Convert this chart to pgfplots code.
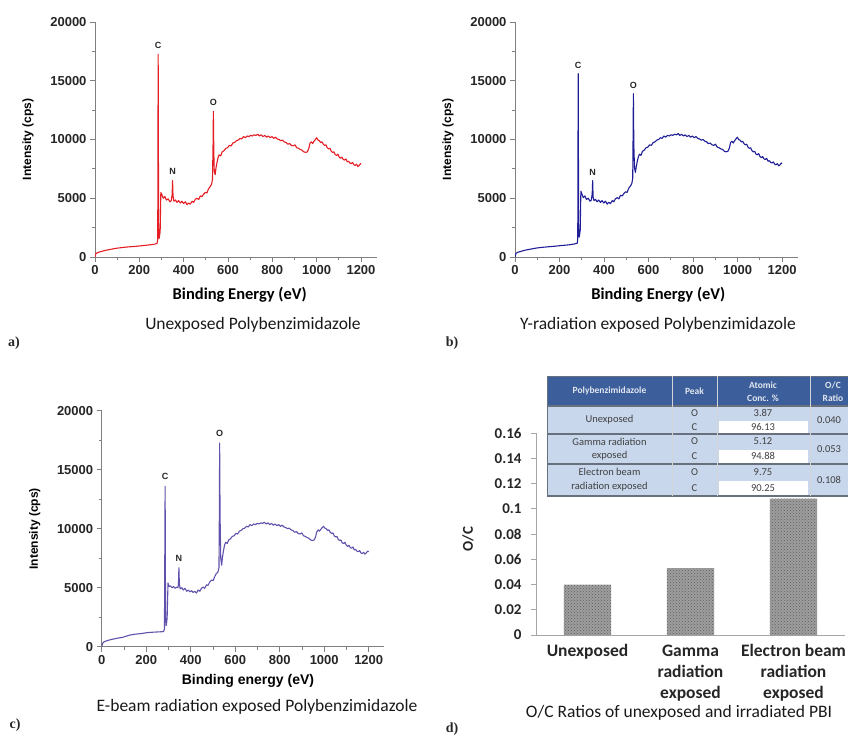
\documentclass[border=0pt]{standalone}
\usepackage{pgfplots}
\pgfplotsset{compat=1.18}
\usepackage{pgfplotstable}
\usetikzlibrary{patterns}
\usepackage{fontspec}
\setmainfont{Liberation Sans}
\newfontfamily\carlito{Carlito}
\newfontfamily\serifb{Liberation Serif}
\definecolor{specred}{RGB}{228,30,36}
\definecolor{specblue}{RGB}{32,30,150}
\definecolor{specpurple}{RGB}{96,82,172}
\definecolor{thead}{RGB}{60,94,154}
\definecolor{tlight}{RGB}{200,215,236}
\definecolor{tline}{RGB}{105,112,125}
\definecolor{barfill}{RGB}{158,158,158}
\definecolor{bardot}{RGB}{95,95,95}

\pgfplotstableread{
x y
0 0
4 280
12 380
25 450
45 560
70 650
95 740
120 800
150 860
180 900
210 960
240 1020
265 1080
280 1150
283 1500
285 17250
287 2500
290 1600
294 2200
297 5500
302 5300
308 5000
315 5150
322 4850
330 4950
338 4700
344 4800
348 5300
350 6500
352 5200
356 4750
363 4850
370 4650
377 4800
385 4600
392 4750
400 4550
408 4700
415 4450
422 4600
430 4500
438 4750
445 4650
452 4900
460 5000
468 4900
475 5200
483 5150
490 5350
498 5500
505 5450
512 5800
520 6000
526 6200
530 6600
533 10000
534 12400
536 9000
538 7300
542 7000
546 7600
550 8000
555 8450
560 8700
567 8600
574 8950
582 9050
590 9250
598 9300
606 9500
614 9450
622 9700
630 9750
638 9900
646 9950
654 10100
662 10050
670 10250
678 10150
686 10300
694 10250
702 10350
710 10300
718 10400
726 10350
734 10450
742 10300
750 10400
758 10250
766 10350
774 10200
782 10300
790 10150
798 10250
806 10100
814 10200
822 10050
830 10000
838 9900
846 9950
854 9800
862 9750
870 9600
878 9650
886 9500
894 9450
902 9550
910 9300
918 9250
926 9150
934 9100
942 8950
950 8900
958 8950
964 9200
970 9700
976 9800
982 9650
988 9850
994 10000
1000 10150
1006 9950
1012 9900
1018 9750
1024 9800
1030 9600
1036 9500
1042 9550
1048 9300
1054 9200
1060 9250
1066 9000
1072 8900
1078 8950
1084 8700
1090 8650
1096 8750
1102 8500
1108 8400
1114 8500
1120 8300
1126 8250
1132 8350
1138 8100
1144 8150
1150 8000
1156 7950
1162 8050
1168 7850
1174 7800
1180 7900
1186 7700
1192 7800
1198 7950
1200 7900
}\dataA

\pgfplotstableread{
x y
0 0
4 300
12 400
25 470
45 580
70 670
95 760
120 820
150 870
180 920
210 980
240 1030
265 1100
280 1180
282 1600
284 15600
286 2400
289 1700
293 2300
296 5600
301 5350
307 5050
314 5200
321 4900
329 5000
337 4750
343 4850
347 5400
349 6500
351 5100
355 4800
362 4900
369 4700
376 4850
384 4650
391 4800
399 4600
407 4750
414 4500
421 4650
429 4550
437 4800
444 4700
451 4950
459 5050
467 4950
474 5250
482 5200
489 5400
497 5550
504 5500
511 5850
519 6050
525 6250
529 6700
531 11000
532 13900
534 9500
537 7600
541 7200
545 7700
549 8100
554 8500
559 8750
566 8650
573 9000
581 9100
589 9300
597 9350
605 9550
613 9500
621 9750
629 9800
637 9950
645 10000
653 10150
661 10100
669 10300
677 10200
685 10350
693 10300
701 10400
709 10350
717 10450
725 10400
733 10500
741 10350
749 10450
757 10300
765 10400
773 10250
781 10350
789 10200
797 10300
805 10150
813 10250
821 10100
829 10050
837 9950
845 10000
853 9850
861 9800
869 9650
877 9700
885 9550
893 9500
901 9600
909 9350
917 9300
925 9200
933 9150
941 9000
949 8950
957 9000
963 9250
969 9750
975 9850
981 9700
987 9900
993 10050
999 10200
1005 10000
1011 9950
1017 9800
1023 9850
1029 9650
1035 9550
1041 9600
1047 9350
1053 9250
1059 9300
1065 9050
1071 8950
1077 9000
1083 8750
1089 8700
1095 8800
1101 8550
1107 8450
1113 8550
1119 8350
1125 8300
1131 8400
1137 8150
1143 8200
1149 8050
1155 8000
1161 8100
1167 7900
1173 7850
1179 7950
1185 7750
1191 7850
1197 8000
1200 7950
}\dataB

\pgfplotstableread{
x y
0 0
4 300
12 430
25 520
45 620
70 720
95 800
127 990
150 1060
180 1120
202 1190
230 1230
260 1260
278 1280
282 1500
285 13600
287 2600
290 1800
294 2400
298 5400
303 5100
309 5150
316 5000
323 5100
330 4950
337 5050
343 5000
345 5400
347 6700
349 5300
353 4900
360 5000
367 4800
374 4950
382 4700
389 4800
397 4650
404 4750
411 4600
418 4700
426 4550
433 4800
441 4700
448 4950
456 5050
463 4950
471 5250
478 5200
486 5500
494 5650
501 5600
508 5950
515 6200
522 6300
527 6700
529 12000
530 17250
532 11000
535 7500
539 6900
543 7600
547 8100
552 8600
557 8850
564 8750
571 9050
579 9150
587 9350
595 9400
603 9600
611 9550
619 9800
627 9850
635 10000
643 10050
651 10200
659 10150
667 10350
675 10250
683 10400
691 10350
699 10450
707 10400
715 10500
723 10450
731 10550
739 10400
747 10500
755 10350
763 10450
771 10300
779 10400
787 10250
795 10350
803 10200
811 10300
819 10150
827 10100
835 10000
843 10050
851 9900
859 9850
867 9700
875 9750
883 9600
891 9550
899 9650
907 9400
915 9350
923 9250
931 9200
939 9050
947 9000
955 9050
961 9300
967 9750
973 9900
979 9800
985 9950
991 10100
997 10200
1003 10050
1009 10000
1015 9850
1021 9900
1027 9700
1033 9600
1039 9650
1045 9400
1051 9300
1057 9350
1063 9100
1069 9000
1075 9050
1081 8800
1087 8750
1093 8850
1099 8600
1105 8500
1111 8600
1117 8400
1123 8350
1129 8450
1135 8200
1141 8250
1147 8100
1153 8050
1159 8150
1165 7950
1171 7900
1177 8000
1183 7850
1189 7950
1195 8100
1200 8050
}\dataC

\tikzset{pk/.style={font=\bfseries\fontsize{9}{10}\selectfont, text=black!85, inner sep=0pt}}
\pgfplotsset{
  spec/.style={
    scale only axis,
    xmin=0, xmax=1270, ymin=0, ymax=20000,
    axis x line*=bottom, axis y line*=left,
    every non boxed x axis/.append style={x axis line style={-}, xtick align=outside},
    every non boxed y axis/.append style={y axis line style={-}, ytick align=outside},
    axis line style={draw=gray, line width=0.9pt},
    tick style={draw=gray, line width=0.9pt},
    tick align=outside,
    major tick length=5pt, minor tick length=3pt,
    xtick={0,200,400,600,800,1000,1200},
    minor xtick={100,300,500,700,900,1100},
    ytick={0,5000,10000,15000,20000},
    minor ytick={2500,7500,12500,17500},
    scaled ticks=false,
    /pgf/number format/1000 sep={},
    /pgf/number format/assume math mode=true,
    ticklabel style={font=\bfseries\fontsize{13}{15}\selectfont, text=black!85},
    every axis y label/.style={at={(axis description cs:0,0.5)}, xshift=-67pt, rotate=90, anchor=center,
      font=\bfseries\fontsize{12}{14}\selectfont},
    ylabel={Intensity (cps)},
  },
}

\begin{document}
\begin{tikzpicture}
\useasboundingbox (0,0) rectangle (848pt,-740pt);

% ---------- panel a
\begin{axis}[spec, at={(95pt,-257pt)}, anchor=south west, width=281.5pt, height=235pt,
  every axis x label/.style={at={(axis description cs:0.5,0)}, yshift=-38pt, anchor=center,
    font=\carlito\bfseries\fontsize{16.5}{18}\selectfont, xshift=4pt},
  xlabel={Binding Energy (eV)}]
\addplot[specred, line width=1.1pt, line join=round] table[x=x,y=y] {\dataA};
\node[pk] at (axis cs:285,18000) {C};
\node[pk] at (axis cs:350,7300) {N};
\node[pk] at (axis cs:534,13200) {O};
\end{axis}

% ---------- panel b
\begin{axis}[spec, at={(515pt,-257pt)}, anchor=south west, width=282.6pt, height=235pt,
  every axis x label/.style={at={(axis description cs:0.5,0)}, yshift=-38pt, anchor=center,
    font=\carlito\bfseries\fontsize{16.5}{18}\selectfont, xshift=2pt},
  xlabel={Binding Energy (eV)}]
\addplot[specblue, line width=1.1pt, line join=round] table[x=x,y=y] {\dataB};
\node[pk] at (axis cs:284,16300) {C};
\node[pk] at (axis cs:349,7200) {N};
\node[pk] at (axis cs:532,14600) {O};
\end{axis}

% ---------- panel c
\begin{axis}[spec, at={(101.7pt,-646.7pt)}, anchor=south west, width=282.6pt, height=236pt,
  every axis x label/.style={at={(axis description cs:0.5,0)}, yshift=-34pt, anchor=center,
    font=\bfseries\fontsize{14}{16}\selectfont, xshift=5pt},
  xlabel={Binding energy (eV)}]
\addplot[specpurple, line width=1.1pt, line join=round] table[x=x,y=y] {\dataC};
\node[pk] at (axis cs:285,14400) {C};
\node[pk] at (axis cs:347,7500) {N};
\node[pk] at (axis cs:530,18100) {O};
\end{axis}

% ---------- panel d
\begin{axis}[scale only axis, at={(536pt,-635pt)}, anchor=south west, width=309pt, height=202pt,
  ybar, xmin=-0.5, xmax=2.5, ymin=0, ymax=0.16,
  axis x line*=bottom, axis y line*=left,
  every non boxed x axis/.append style={x axis line style={-}},
  every non boxed y axis/.append style={y axis line style={-}, ytick align=outside},
  axis line style={draw=gray!70, line width=0.8pt},
  tick style={draw=gray!70, line width=0.8pt},
  ytick={0,0.02,0.04,0.06,0.08,0.1,0.12,0.14,0.16},
  yticklabels={0,0.02,0.04,0.06,0.08,0.1,0.12,0.14,0.16},
  ytick align=outside, major tick length=5pt,
  yticklabel style={font=\carlito\bfseries\fontsize{15}{17}\selectfont, text=black!85, xshift=-6pt},
  xtick={0,1,2},
  xticklabels={Unexposed,{Gamma\\radiation\\exposed},{Electron beam\\radiation\\exposed}},
  xticklabel style={font=\carlito\bfseries\fontsize{17.5}{21}\selectfont, align=center, text=black!85, yshift=-1pt},
  x tick style={draw=none},
  extra x ticks={0.5,1.5}, extra x tick labels={},
  extra x tick style={tick style={draw=gray!70, line width=0.8pt}, major tick length=4pt, tick align=outside},
  every axis y label/.style={at={(axis description cs:0,0.5)}, xshift=-68pt, yshift=-5pt, rotate=90, anchor=center,
    font=\carlito\bfseries\fontsize{15}{17}\selectfont, text=black!85},
  ylabel={O/C},
  bar width=0.46]
\addplot[draw=none, fill=barfill, postaction={pattern=crosshatch dots, pattern color=bardot}]
  coordinates {(0,0.040) (1,0.053) (2,0.108)};
\end{axis}

% ---------- table in panel d
\fill[tlight] (547pt,-406pt) rectangle (848pt,-496pt);
\fill[thead] (547pt,-376pt) rectangle (848pt,-406pt);
\fill[white] (719pt,-421pt) rectangle (808pt,-433pt);
\fill[white] (719pt,-450pt) rectangle (808pt,-463pt);
\fill[white] (719pt,-481pt) rectangle (808pt,-495pt);
\draw[tline, line width=1.6pt] (547pt,-406pt) -- (848pt,-406pt);
\draw[tline, line width=1.4pt] (547pt,-434pt) -- (848pt,-434pt);
\draw[tline, line width=1.4pt] (547pt,-464pt) -- (848pt,-464pt);
\draw[tline, line width=1.8pt] (547pt,-496pt) -- (848pt,-496pt);
\draw[tline, line width=0.8pt] (547pt,-376pt) -- (848pt,-376pt);
\draw[tline, line width=0.8pt] (547pt,-376pt) -- (547pt,-496pt);
\draw[white!70!tline, line width=0.6pt] (672pt,-376pt) -- (672pt,-496pt);
\draw[white!70!tline, line width=0.6pt] (717pt,-376pt) -- (717pt,-496pt);
\draw[white!70!tline, line width=0.6pt] (810pt,-376pt) -- (810pt,-496pt);
\begin{scope}[every node/.style={font=\carlito\bfseries\fontsize{9.5}{11}\selectfont, text=white!85!thead, inner sep=0pt}]
\node at (609.5pt,-391pt) {Polybenzimidazole};
\node at (694.5pt,-391pt) {Peak};
\node at (763pt,-385pt) {Atomic};
\node at (763pt,-398pt) {Conc. \%};
\node at (833pt,-385pt) {O/C};
\node at (833pt,-398pt) {Ratio};
\end{scope}
\begin{scope}[every node/.style={font=\carlito\fontsize{10.5}{12}\selectfont, text=black!75, inner sep=0pt}]
\node at (609.5pt,-420pt) {Unexposed};
\node at (694.5pt,-413pt) {O};
\node at (694.5pt,-427pt) {C};
\node at (763pt,-413pt) {3.87};
\node at (763pt,-427pt) {96.13};
\node at (829pt,-420pt) {0.040};
\node at (609.5pt,-442pt) {Gamma radiation};
\node at (609.5pt,-456pt) {exposed};
\node at (694.5pt,-441pt) {O};
\node at (694.5pt,-456pt) {C};
\node at (763pt,-441pt) {5.12};
\node at (763pt,-456pt) {94.88};
\node at (829pt,-449pt) {0.053};
\node at (609.5pt,-472pt) {Electron beam};
\node at (609.5pt,-487pt) {radiation exposed};
\node at (694.5pt,-472pt) {O};
\node at (694.5pt,-488pt) {C};
\node at (763pt,-472pt) {9.75};
\node at (763pt,-488pt) {90.25};
\node at (829pt,-480pt) {0.108};
\end{scope}

% ---------- captions
\begin{scope}[every node/.style={font=\carlito\fontsize{17.5}{19}\selectfont, text=black!90}]
\node at (253pt,-325pt) {Unexposed Polybenzimidazole};
\node at (658pt,-325pt) {Y-radiation exposed Polybenzimidazole};
\node at (257pt,-707pt) {E-beam radiation exposed Polybenzimidazole};
\node at (679pt,-713pt) {O/C Ratios of unexposed and irradiated PBI};
\end{scope}
\begin{scope}[every node/.style={font=\serifb\bfseries\fontsize{14}{16}\selectfont, text=black!85}]
\node at (14pt,-343pt) {a)};
\node at (452pt,-343pt) {b)};
\node at (15pt,-725pt) {c)};
\node at (452pt,-729pt) {d)};
\end{scope}
\end{tikzpicture}
\end{document}
